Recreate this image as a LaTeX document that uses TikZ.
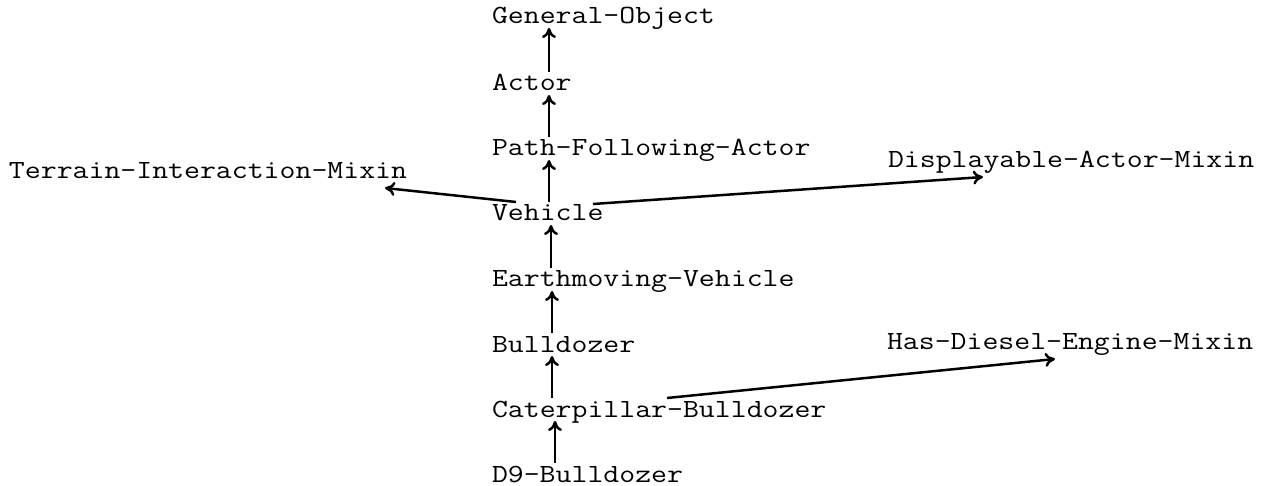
\documentclass[tikz,border=0pt]{standalone}
\usepackage{fontspec}
\setmonofont{Latin Modern Mono}[FakeStretch=1.18]
\usetikzlibrary{arrows.meta}
\tikzset{
  lbl/.style={anchor=base west, inner sep=0pt, outer sep=0pt, font=\ttfamily\fontsize{13.1pt}{16pt}\selectfont},
  arr/.style={line width=1.25pt, -{To[length=5pt,width=7pt]}}
}
\begin{document}
\begin{tikzpicture}[x=0.5pt,y=-0.5pt]
\useasboundingbox (0,0) rectangle (1275,486);
\node[lbl] (go)  at (492,24)  {General-Object};
\node[lbl] (ac)  at (492,91)  {Actor};
\node[lbl] (pfa) at (492,156) {Path-Following-Actor};
\node[lbl] (veh) at (492,221) {Vehicle};
\node[lbl] (ev)  at (492,287) {Earthmoving-Vehicle};
\node[lbl] (bd)  at (492,352) {Bulldozer};
\node[lbl] (cb)  at (492,417) {Caterpillar-Bulldozer};
\node[lbl] (d9)  at (492,482) {D9-Bulldozer};
\node[lbl] (tim) at (9,179)   {Terrain-Interaction-Mixin};
\node[lbl] (dam) at (888,168) {Displayable-Actor-Mixin};
\node[lbl] (hde) at (887,350) {Has-Diesel-Engine-Mixin};
\draw[arr] ([shift={(57,-19)}]ac.base west)  -- ([shift={(57,4)}]go.base west);
\draw[arr] ([shift={(57,-19)}]pfa.base west) -- ([shift={(57,4)}]ac.base west);
\draw[arr] ([shift={(57,-19)}]veh.base west) -- ([shift={(57,4)}]pfa.base west);
\draw[arr] ([shift={(59,-19)}]ev.base west)  -- ([shift={(59,4)}]veh.base west);
\draw[arr] ([shift={(60,-19)}]bd.base west)  -- ([shift={(60,4)}]ev.base west);
\draw[arr] ([shift={(60,-19)}]cb.base west)  -- ([shift={(60,4)}]bd.base west);
\draw[arr] ([shift={(63,-19)}]d9.base west)  -- ([shift={(63,4)}]cb.base west);
\draw[arr] ([shift={(24,-19)}]veh.base west) -- ([shift={(376,9)}]tim.base west);
\draw[arr] ([shift={(101,-17)}]veh.base west) -- ([shift={(95,9)}]dam.base west);
\draw[arr] ([shift={(175,-19)}]cb.base west) -- ([shift={(168,9)}]hde.base west);
\end{tikzpicture}
\end{document}
